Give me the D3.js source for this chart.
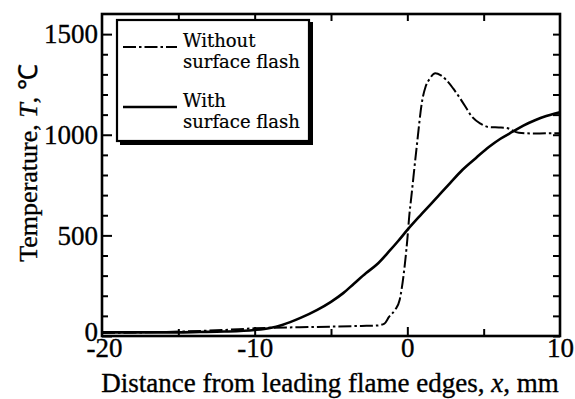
<!DOCTYPE html>
<html>
<head>
<meta charset="utf-8">
<script src="https://cdn.jsdelivr.net/npm/d3@7"></script>
<style>
  body { margin: 0; background: #fff; }
  svg text { fill: #000; stroke: #000; stroke-width: 0.35px; }
</style>
</head>
<body>
<svg id="chart" width="575" height="399" font-family="Liberation Serif, Times New Roman, serif"></svg>
<script>
// series (x in mm, T in degC)
const withoutX = [-20, -16, -12, -10, -6, -3, -2, -1.5, -1.2, -0.8, -0.5, -0.25, 0, 0.13, 0.26, 0.59, 0.98, 1.2, 1.44, 1.83, 2.2, 2.55, 3.0, 3.4, 3.8, 4.25, 4.8, 5.36, 6.0, 6.47, 7.3, 8.4, 9.7, 10];
const withoutT = [15, 20, 30, 38, 45, 50, 52, 62, 95, 130, 180, 300, 480, 600, 690, 924, 1172, 1240, 1275, 1306, 1295, 1272, 1230, 1187, 1140, 1088, 1055, 1038, 1036, 1034, 1010, 1006, 1008, 1008];
const withX = [-20, -16, -13.6, -12, -10, -9, -8.2, -7, -5.9, -5, -4.2, -3.5, -2.7, -2, -1.2, -0.6, 0, 0.8, 1.6, 1.96, 2.8, 3.6, 4.5, 5.36, 6.1, 6.9, 7.6, 8.4, 9.1, 9.8, 10];
const withT = [18, 18, 20, 22, 30, 40, 55, 90, 130, 170, 213, 260, 313, 355, 420, 472, 527, 595, 660, 690, 760, 825, 885, 940, 980, 1015, 1045, 1073, 1093, 1108, 1112];
const xMajor = [-20, -10, 0, 10];
const xMinor = [-15, -5, 5];
const yMajor = [0, 500, 1000, 1500];
const yMinor = d3.range(100, 1600, 100).filter(v => v % 500 !== 0);
const legendItems = [
  { lines: ["Without", "surface flash"], dash: "13,3,2.5,3", w: 2 },
  { lines: ["With", "surface flash"], dash: null, w: 2.6 }
];

const svg = d3.select("#chart");
const pL = 102, pR = 560, pT = 14, pB = 336;
const x = d3.scaleLinear().domain([-20, 10]).range([pL, pR]);
const y = d3.scaleLinear().domain([0, 1600]).range([pB, pT]);
const hyphenFmt = d => String(d); // plain hyphen-minus like the original

// ticks, all pointing inward
const addAxis = (axis, tx, ty) => {
  const g = svg.append("g").attr("transform", `translate(${tx},${ty})`).call(axis);
  g.select(".domain").remove();
  g.selectAll("line").attr("stroke", "#000").attr("stroke-width", 2);
  g.attr("font-family", null);
  g.selectAll("text").attr("font-size", 27).attr("fill", "#000");
  return g;
};
const ya = addAxis(d3.axisLeft(y).tickValues(yMajor).tickSize(-10).tickPadding(4).tickFormat(hyphenFmt), pL, 0);
ya.selectAll("text").filter(d => d === 0).attr("dy", "0.15em");
addAxis(d3.axisLeft(y).tickValues(yMinor).tickSize(-6).tickFormat(""), pL, 0);
addAxis(d3.axisRight(y).tickValues(yMinor.concat(yMajor)).tickSize(-7).tickFormat(""), pR, 0);
const xa = addAxis(d3.axisBottom(x).tickValues(xMajor).tickSize(-9).tickPadding(4).tickFormat(hyphenFmt), 0, pB);
xa.selectAll("line").filter(d => d === -20 || d === 10).remove();
addAxis(d3.axisBottom(x).tickValues(xMinor).tickSize(-7).tickFormat(""), 0, pB);
addAxis(d3.axisTop(x).tickValues(xMajor.slice(1, 3).concat(xMinor)).tickSize(-7).tickFormat(""), 0, pT);
xa.selectAll("text").attr("dy", "0.62em").attr("dx", d => d === -20 ? 2 : 0);

// frame
svg.append("rect").attr("x", pL).attr("y", pT).attr("width", pR - pL).attr("height", pB - pT)
  .attr("fill", "none").attr("stroke", "#000").attr("stroke-width", 2.6);

// curves
const line = d3.line().x(d => x(d[0])).y(d => y(d[1])).curve(d3.curveMonotoneX);
svg.append("path").datum(d3.zip(withX, withT)).attr("d", line)
  .attr("fill", "none").attr("stroke", "#000").attr("stroke-width", 2.6);
svg.append("path").datum(d3.zip(withoutX, withoutT)).attr("d", line)
  .attr("fill", "none").attr("stroke", "#000").attr("stroke-width", 2).attr("stroke-dasharray", "13,3,2.5,3");

// legend
const lg = svg.append("g");
lg.append("rect").attr("x", 120).attr("y", 22).attr("width", 193).attr("height", 123).attr("fill", "#000");
lg.append("rect").attr("x", 117).attr("y", 20).attr("width", 192).attr("height", 121)
  .attr("fill", "#fff").attr("stroke", "#000").attr("stroke-width", 2.2);
legendItems.forEach((it, i) => {
  const y0 = 47 + i * 60;
  lg.append("line").attr("x1", 123).attr("x2", 177).attr("y1", y0).attr("y2", y0)
    .attr("stroke", "#000").attr("stroke-width", it.w).attr("stroke-dasharray", it.dash);
  it.lines.forEach((t, j) => {
    lg.append("text").attr("x", 183).attr("y", y0 + j * 21)
      .attr("font-family", "DejaVu Serif").attr("font-size", 18).style("stroke-width", "0.2px").text(t);
  });
});

// axis titles
const xt = svg.append("text").attr("x", 330).attr("y", 392).attr("text-anchor", "middle").attr("font-size", 27);
xt.append("tspan").text("Distance from leading flame edges, ");
xt.append("tspan").attr("font-style", "italic").text("x");
xt.append("tspan").text(", mm");
const yt = svg.append("text").attr("transform", `translate(37,163) rotate(-90)`)
  .attr("text-anchor", "middle").attr("font-size", 26);
yt.append("tspan").text("Temperature, ");
yt.append("tspan").attr("font-style", "italic").text("T");
yt.append("tspan").text(", \u2103");
</script>
</body>
</html>
